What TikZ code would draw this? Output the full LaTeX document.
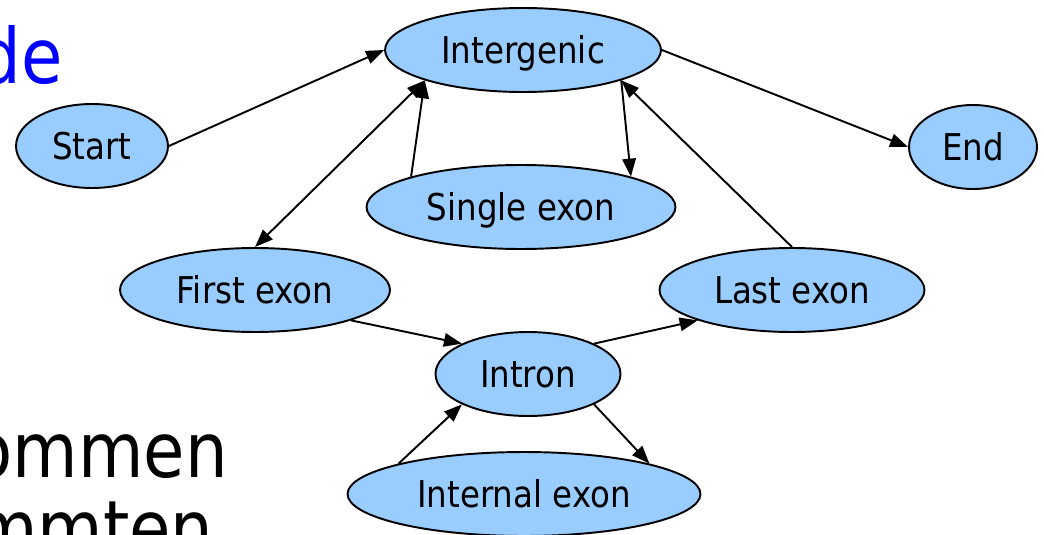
\documentclass[tikz,border=0pt]{standalone}
\usepackage{fontspec}
\setmainfont{DejaVu Sans}[FakeStretch=0.88]
\usepackage{tikz}
\usetikzlibrary{shapes.geometric, arrows.meta, positioning}
\usepackage{xcolor}
\definecolor{stateblue}{RGB}{153,204,255}
\tikzset{
  state/.style={ellipse, draw, line width=1.1pt, fill=stateblue, inner sep=0pt,
    minimum height=1.68cm, text height=16pt, text depth=0.6pt,
    font=\fontsize{21}{25}\selectfont},
  backtext/.style={inner sep=0pt, font=\fontsize{43.5}{50}\selectfont},
  arr/.style={-{Triangle[length=0.36cm, width=0.27cm]}, line width=1.1pt},
  biarr/.style={{Triangle[length=0.36cm, width=0.27cm]}-{Triangle[length=0.36cm, width=0.27cm]}, line width=1.1pt},
}
\begin{document}
\begin{tikzpicture}[x=0.02cm, y=-0.02cm]
  \useasboundingbox (0,0) rectangle (1044,534);

  % slide text behind the diagram
  \node[backtext, text=blue, anchor=base east] (de) at (63,83) {de};
  \node[backtext, anchor=base east] (ommen) at (228,477) {ommen};
  \node[backtext, anchor=base east] (mmten) at (214,555) {mmten};

  % top row
  \node[state, minimum width=5.52cm] (inter) at (523,50) {Intergenic};
  \node[state, minimum width=3.04cm] (start) at (92,146) {Start};
  \node[state, minimum width=2.56cm] (end) at (973,147) {End};
  \node[state, minimum width=6.18cm] (single) at (521,207) {Single exon};

  % exons
  \node[state, minimum width=5.4cm] (first) at (255,290) {First exon};
  \node[state, minimum width=5.3cm] (last) at (792,290) {Last exon};
  \node[state, minimum width=3.7cm] (intron) at (528,374) {Intron};
  \node[state, minimum width=7.06cm] (internal) at (524,494) {Internal exon};

  \draw[arr] (start.east) -- (inter.west);
  \draw[arr] (inter.east) -- (end.west);
  \draw[biarr] (first.north) -- (inter.south west);
  \draw[arr] (single.north west) -- (inter.south west);
  \draw[arr] (inter.south east) -- (single.north east);
  \draw[arr] (last.north) -- (inter.south east);
  \draw[arr] (first.south east) -- (intron.north west);
  \draw[arr] (intron.north east) -- (last.south west);
  \draw[arr] (internal.north west) -- (intron.south west);
  \draw[arr] (intron.south east) -- (internal.north east);
\end{tikzpicture}
\end{document}
